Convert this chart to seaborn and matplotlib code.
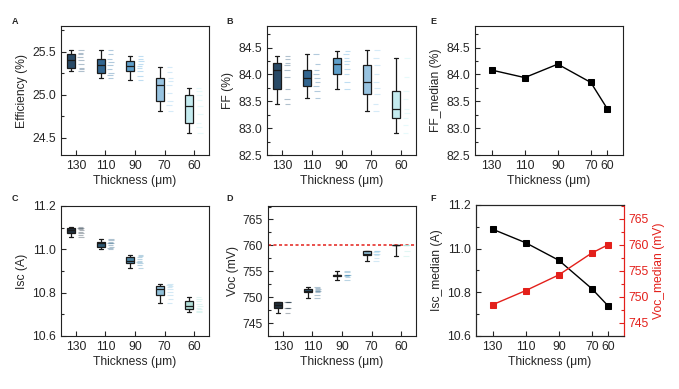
import matplotlib
matplotlib.use("Agg")
import matplotlib.pyplot as plt
import pandas as pd
import seaborn as sns
from matplotlib.ticker import MultipleLocator

sns.set_style("ticks")
plt.rcParams["font.family"] = ["Liberation Sans", "DejaVu Sans"]
plt.rcParams["xtick.direction"] = "in"
plt.rcParams["ytick.direction"] = "in"
plt.rcParams["axes.linewidth"] = 0.8

thickness = ["130", "110", "90", "70", "60"]
thickness_um = [130, 110, 90, 70, 60]

# per-cell values for each thickness
efficiency = [
    [25.28, 25.30, 25.31, 25.36, 25.40, 25.44, 25.48, 25.49, 25.52],
    [25.20, 25.23, 25.25, 25.30, 25.35, 25.38, 25.42, 25.47, 25.52],
    [25.17, 25.22, 25.28, 25.31, 25.34, 25.36, 25.39, 25.42, 25.45],
    [24.81, 24.88, 24.93, 25.02, 25.11, 25.16, 25.20, 25.26, 25.32],
    [24.56, 24.62, 24.67, 24.78, 24.87, 24.94, 25.00, 25.04, 25.08],
]
ff = [
    [83.45, 83.55, 83.72, 83.95, 84.08, 84.18, 84.22, 84.28, 84.34],
    [83.56, 83.70, 83.79, 83.86, 83.94, 84.00, 84.08, 84.20, 84.38],
    [83.72, 83.85, 84.01, 84.10, 84.19, 84.25, 84.31, 84.38, 84.44],
    [83.31, 83.45, 83.63, 83.75, 83.85, 84.00, 84.17, 84.30, 84.46],
    [82.91, 83.05, 83.18, 83.28, 83.36, 83.55, 83.70, 83.95, 84.31],
]
isc = [
    [11.057, 11.068, 11.074, 11.082, 11.089, 11.093, 11.097, 11.100, 11.103],
    [11.000, 11.006, 11.012, 11.020, 11.027, 11.031, 11.035, 11.042, 11.049],
    [10.915, 10.926, 10.935, 10.942, 10.947, 10.956, 10.965, 10.969, 10.972],
    [10.754, 10.772, 10.788, 10.805, 10.817, 10.825, 10.831, 10.835, 10.838],
    [10.710, 10.716, 10.723, 10.730, 10.737, 10.750, 10.762, 10.772, 10.782],
]
voc = [
    [747.0, 748.0, 748.0, 748.0, 749.0, 749.0, 749.0, 749.0],
    [749.9, 750.5, 750.9, 751.1, 751.2, 751.3, 751.5, 751.7, 751.9],
    [753.3, 753.8, 754.1, 754.2, 754.2, 754.3, 754.3, 754.8, 755.1],
    [757.0, 757.6, 758.1, 758.3, 758.4, 758.7, 759.0, 759.0, 759.0],
    [758.0, 759.0, 760.0, 760.0, 760.0, 760.0, 760.0, 760.0, 760.0],
]
voc_limit = 760

blues_ab = ["#1f4b70", "#23679e", "#4da3dc", "#8cc6ec", "#bdf1f6"]
blues_cd = ["#1b3040", "#215a7e", "#3d88b2", "#84c2e4", "#a9e6de"]
RED = "#e3201b"
FS = 8.7


def cells_frame(values):
    rows = []
    for i, (label, cell_values) in enumerate(zip(thickness, values)):
        for v in cell_values:
            rows.append({"thickness": label, "pos": i, "value": v})
    df = pd.DataFrame(rows)
    df["box_x"] = df["pos"] - 0.16
    df["dash_x"] = df["pos"] + 0.17
    return df


def style_axis(ax, ylim, major, minor, ylabel):
    ax.set_ylim(*ylim)
    ax.yaxis.set_major_locator(MultipleLocator(major))
    ax.yaxis.set_minor_locator(MultipleLocator(minor))
    ax.tick_params(which="major", length=3.5, width=0.8, labelsize=FS, top=False, right=False)
    ax.tick_params(which="minor", length=2, width=0.8, top=False, right=False)
    ax.tick_params(axis="x", which="minor", bottom=False)
    ax.set_xlabel("Thickness (μm)", fontsize=FS, labelpad=2)
    ax.set_ylabel(ylabel, fontsize=FS, labelpad=3)
    for s in ax.spines.values():
        s.set_color("#222222")


def box_panel(ax, values, palette, ylim, major, minor, ylabel):
    df = cells_frame(values)
    sns.boxplot(data=df, x="box_x", y="value", hue="thickness", palette=palette,
                native_scale=True, width=0.27, whis=(0, 100), linecolor="#1a1a1a",
                linewidth=0.9, legend=False, ax=ax)
    sns.stripplot(data=df, x="dash_x", y="value", hue="thickness", palette=palette,
                  native_scale=True, jitter=0.03, marker="_", size=4, linewidth=0.8,
                  alpha=0.35, legend=False, ax=ax)
    ax.set_xlim(-0.5, 4.5)
    ax.set_xticks(range(len(thickness)))
    ax.set_xticklabels(thickness)
    style_axis(ax, ylim, major, minor, ylabel)


def median_axis(ax):
    ax.set_xlim(140.1, 50.5)
    ax.set_xticks(thickness_um)
    ax.set_xticklabels(thickness)


fig = plt.figure(figsize=(6.79, 3.89), dpi=100)
W, H = 679, 389


def panel(left, top, right, bottom):
    return fig.add_axes([left / W, 1 - bottom / H, (right - left) / W, (bottom - top) / H])


ax_a = panel(61, 26, 209, 155)
ax_b = panel(267, 26, 416, 155)
ax_e = panel(475, 26, 623, 155)
ax_c = panel(61, 206, 209, 336)
ax_d = panel(268, 206, 416, 336)
ax_f = panel(476, 205, 624, 336)

box_panel(ax_a, efficiency, blues_ab, (24.3, 25.8), 0.5, 0.25, "Efficiency (%)")
box_panel(ax_b, ff, blues_ab, (82.5, 84.9), 0.5, 0.25, "FF (%)")
box_panel(ax_c, isc, blues_cd, (10.6, 11.2), 0.2, 0.1, "Isc (A)")
box_panel(ax_d, voc, blues_cd, (742.5, 767.6), 5, 2.5, "Voc (mV)")
ax_d.axhline(voc_limit, color=RED, ls=(0, (2, 1.6)), lw=1.1)

# E: FF medians
ff_median = cells_frame(ff).groupby("pos")["value"].median().values
sns.lineplot(x=thickness_um, y=ff_median, marker="s", color="black", markersize=5,
             markeredgecolor="black", lw=1, ax=ax_e)
median_axis(ax_e)
style_axis(ax_e, (82.5, 84.9), 0.5, 0.25, "FF_median (%)")

# F: Isc and Voc medians
isc_median = cells_frame(isc).groupby("pos")["value"].median().values
voc_median = cells_frame(voc).groupby("pos")["value"].median().values
sns.lineplot(x=thickness_um, y=isc_median, marker="s", color="black", markersize=5,
             markeredgecolor="black", lw=1, ax=ax_f)
median_axis(ax_f)
style_axis(ax_f, (10.6, 11.2), 0.2, 0.1, "Isc_median (A)")
ax_f2 = ax_f.twinx()
sns.lineplot(x=thickness_um, y=voc_median, marker="s", color=RED, markersize=5,
             markeredgecolor=RED, lw=1, ax=ax_f2)
ax_f2.set_ylim(742.5, 767.6)
ax_f2.yaxis.set_major_locator(MultipleLocator(5))
ax_f2.yaxis.set_minor_locator(MultipleLocator(2.5))
ax_f2.tick_params(which="major", length=3.5, width=0.8, labelsize=FS, colors=RED)
ax_f2.tick_params(which="minor", length=2, width=0.8, colors=RED)
ax_f2.set_ylabel("Voc_median (mV)", fontsize=FS, color=RED, labelpad=3)
ax_f2.spines["right"].set_color(RED)
ax_f.spines["right"].set_color(RED)

for label, (x, y) in zip("ABECDF", [(15, 21), (230, 21), (433, 21),
                                    (15, 199), (230, 199), (433, 199)]):
    fig.text(x / W, 1 - y / H, label, fontsize=6.5, fontweight="bold", ha="center", va="center")

fig.savefig("out.png", dpi=100)
